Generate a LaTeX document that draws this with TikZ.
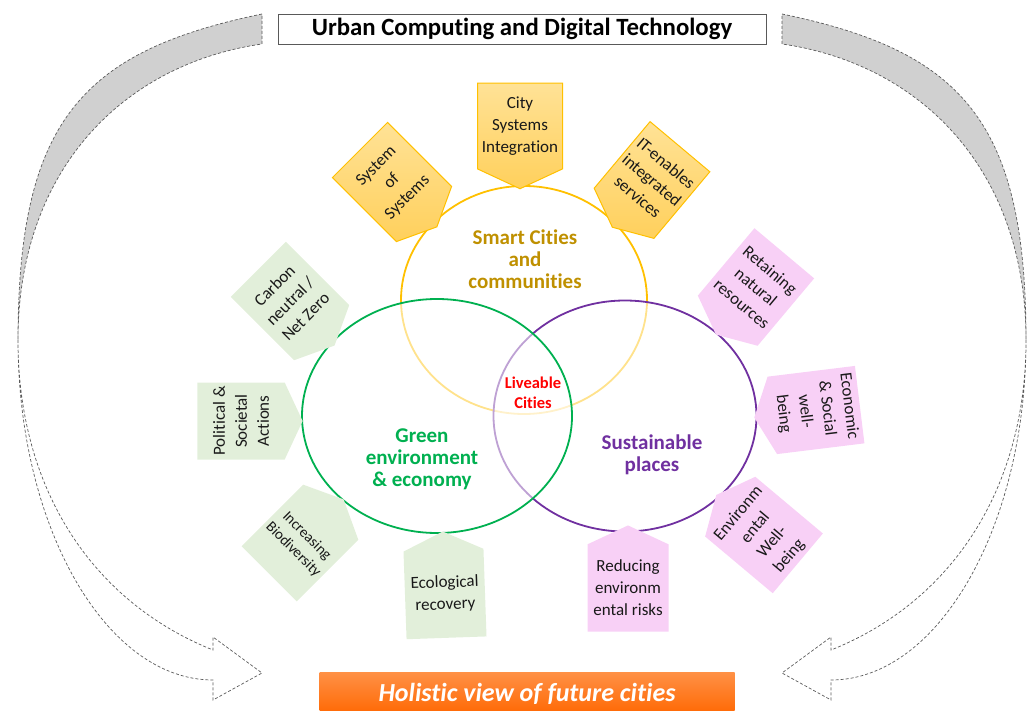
\documentclass[tikz,border=0pt]{standalone}
\usepackage{fontspec}
\setmainfont{Carlito}[Ligatures=NoCommon]
\usetikzlibrary{positioning, shapes.geometric, shapes.symbols}

\definecolor{smartyellow}{RGB}{255,192,0}
\definecolor{smarttext}{RGB}{191,144,0}
\definecolor{greenline}{RGB}{0,176,80}
\definecolor{purpleline}{RGB}{112,48,160}
\definecolor{yellowlight}{RGB}{255,226,150}
\definecolor{yellowdeep}{RGB}{255,208,92}
\definecolor{greenfill}{RGB}{226,239,218}
\definecolor{pinkfill}{RGB}{248,208,246}
\definecolor{bandgray}{RGB}{208,208,208}
\definecolor{dashgray}{RGB}{90,90,90}
\definecolor{orangetop}{RGB}{255,145,70}
\definecolor{orangebot}{RGB}{255,102,0}

\begin{document}
\begin{tikzpicture}
        [x=1pt, y=-1pt,
         ring/.style={ellipse, line width=1.8pt, inner sep=0pt},
         ringlabel/.style={align=center, font=\bfseries\fontsize{21}{22}\selectfont},
         tag/.style={signal, signal pointer angle=130, minimum width=78pt,
           minimum height=104pt, inner sep=1pt, align=center, text=black!90,
           font=\fontsize{17}{22}\selectfont},
         yellowtag/.style={tag, top color=yellowlight, bottom color=yellowdeep,
           draw=smartyellow, line width=1pt},
         greentag/.style={tag, fill=greenfill},
         pinktag/.style={tag, fill=pinkfill},
         band/.style={draw=dashgray, line width=0.7pt, dash pattern=on 3pt off 2pt},
         banner/.style={minimum width=415pt, minimum height=44pt, top color=orangetop,
           bottom color=orangebot, text=white, font=\bfseries\itshape\fontsize{26}{30}\selectfont}]
        \useasboundingbox (0,0) rectangle (1032,711);

        % curved arrows round the picture
        \foreach \flip/\off in {1/0, -1/1044} {
          \begin{scope}[shift={(\off,0)}, xscale=\flip]
            \draw[band, fill=bandgray] (262,14) .. controls (83,51) and (18,120) .. (18,340)
              .. controls (18,170) and (123,64) .. (262,44) -- cycle;
            \draw[band] (18,340) .. controls (18,527) and (106,680) .. (213,680)
              -- (213,700) -- (262,673) -- (213,637) -- (213,650)
              .. controls (93,602) and (18,490) .. (18,340);
          \end{scope}
        }

        % the three rings
        \node[ring, draw=smartyellow, minimum width=246pt, minimum height=228pt] (smart) at (524,300) {};
        \node[ring, draw=purpleline, fill=white, fill opacity=0.55, minimum width=263pt, minimum height=231pt] (sustain) at (625,416) {};
        \node[ring, draw=greenline, fill=white, fill opacity=0.55, minimum width=270pt, minimum height=234pt] (green) at (437,416) {};

        \node[ringlabel, text=smarttext] (smartlbl) at (525,259) {Smart Cities\\and\\communities};
        \node[ringlabel, text=greenline] (greenlbl) at (422,459) {Green\\environment\\\& economy};
        \node[ringlabel, text=purpleline] (sustainlbl) at (652,455) {Sustainable\\places};
        \node[align=center, text=red, font=\bfseries\fontsize{16.5}{20}\selectfont] (liveable) at (533,393) {Liveable\\Cities};

        % yellow tags
        \node[yellowtag, signal to=south, minimum width=85pt] (cityint) at (520,126) {City\\Systems\\Integration};
        \node[yellowtag, signal to=south, rotate=45] (sysofsys) at (392,182) {System\\of\\Systems};
        \node[yellowtag, signal to=south, rotate=-40] (itserv) at (652,180) {IT-enables\\integrated\\services};

        % green tags
        \node[greentag, signal to=south, rotate=45] (carbon) at (290,301) {Carbon\\neutral /\\Net Zero};
        \node[greentag, signal to=south, rotate=90, minimum width=77pt] (political) at (241,421) {Political \&\\Societal\\Actions};
        \node[greentag, signal to=north, rotate=-45, font=\fontsize{15}{19}\selectfont] (biodiv) at (300,543) {Increasing\\Biodiversity};
        \node[greentag, signal to=north, rotate=2, minimum width=80pt] (ecorec) at (445,594) {Ecological\\recovery};

        % pink tags
        \node[pinktag, signal to=north, minimum width=81pt] (risks) at (628,588) {Reducing\\environm\\ental risks};
        \node[pinktag, signal to=north, rotate=50] (envwell) at (764,535) {Environm\\ental\\Well-\\being};
        \node[pinktag, signal to=south, rotate=-83] (econ) at (816,410) {Economic\\\& Social\\well-\\being};
        \node[pinktag, signal to=south, rotate=-40] (retain) at (756,287) {Retaining\\natural\\resources};

        % title and banner
        \node[draw=black!65, fill=white, line width=0.8pt, minimum width=488pt, minimum height=30pt,
          font=\bfseries\fontsize{24.8}{28}\selectfont] (title) at (522,29) {Urban Computing and Digital Technology};
        \node[banner] (holistic) at (527,694) {Holistic view of future cities};
\end{tikzpicture}
\end{document}
